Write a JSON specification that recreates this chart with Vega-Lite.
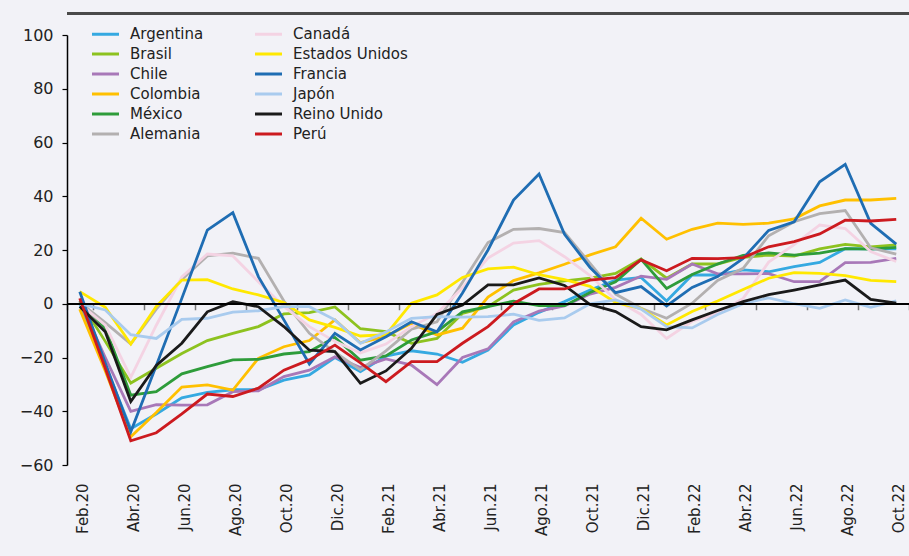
{
"$schema":"https://vega.github.io/schema/vega-lite/v6.json",
"autosize":{"type":"none"},
"padding":{"left":67,"top":35,"right":0,"bottom":91},
"width":842,"height":430,
"background":"#F2F2F7",
"config":{"view":{"stroke":null},"font":"DejaVu Sans"},
"data":{"values":[
{"m":"Feb.20","p":"Argentina","v":0},{"m":"Mar.20","p":"Argentina","v":-23},{"m":"Abr.20","p":"Argentina","v":-46.5},{"m":"May.20","p":"Argentina","v":-41},{"m":"Jun.20","p":"Argentina","v":-35},{"m":"Jul.20","p":"Argentina","v":-33},{"m":"Ago.20","p":"Argentina","v":-32},{"m":"Sep.20","p":"Argentina","v":-32},{"m":"Oct.20","p":"Argentina","v":-28.4},{"m":"Nov.20","p":"Argentina","v":-26.5},{"m":"Dic.20","p":"Argentina","v":-20},{"m":"Ene.21","p":"Argentina","v":-25.3},{"m":"Feb.21","p":"Argentina","v":-19.5},{"m":"Mar.21","p":"Argentina","v":-17.5},{"m":"Abr.21","p":"Argentina","v":-18.7},{"m":"May.21","p":"Argentina","v":-21.8},{"m":"Jun.21","p":"Argentina","v":-17.2},{"m":"Jul.21","p":"Argentina","v":-7.9},{"m":"Ago.21","p":"Argentina","v":-3.2},{"m":"Sep.21","p":"Argentina","v":0.8},{"m":"Oct.21","p":"Argentina","v":5.1},{"m":"Nov.21","p":"Argentina","v":8.8},{"m":"Dic.21","p":"Argentina","v":9.8},{"m":"Ene.22","p":"Argentina","v":1},{"m":"Feb.22","p":"Argentina","v":10.7},{"m":"Mar.22","p":"Argentina","v":10.7},{"m":"Abr.22","p":"Argentina","v":12.6},{"m":"May.22","p":"Argentina","v":11.9},{"m":"Jun.22","p":"Argentina","v":13.8},{"m":"Jul.22","p":"Argentina","v":15.4},{"m":"Ago.22","p":"Argentina","v":20.5},{"m":"Sep.22","p":"Argentina","v":20.4},{"m":"Oct.22","p":"Argentina","v":20.4},
{"m":"Feb.20","p":"Brasil","v":1},{"m":"Mar.20","p":"Brasil","v":-14},{"m":"Abr.20","p":"Brasil","v":-29.5},{"m":"May.20","p":"Brasil","v":-24},{"m":"Jun.20","p":"Brasil","v":-18.5},{"m":"Jul.20","p":"Brasil","v":-13.7},{"m":"Ago.20","p":"Brasil","v":-11},{"m":"Sep.20","p":"Brasil","v":-8.5},{"m":"Oct.20","p":"Brasil","v":-3.8},{"m":"Nov.20","p":"Brasil","v":-3.3},{"m":"Dic.20","p":"Brasil","v":-1.2},{"m":"Ene.21","p":"Brasil","v":-9.3},{"m":"Feb.21","p":"Brasil","v":-10.4},{"m":"Mar.21","p":"Brasil","v":-14.7},{"m":"Abr.21","p":"Brasil","v":-12.9},{"m":"May.21","p":"Brasil","v":-3.6},{"m":"Jun.21","p":"Brasil","v":-1.1},{"m":"Jul.21","p":"Brasil","v":5.1},{"m":"Ago.21","p":"Brasil","v":7.2},{"m":"Sep.21","p":"Brasil","v":8.5},{"m":"Oct.21","p":"Brasil","v":9.5},{"m":"Nov.21","p":"Brasil","v":11.3},{"m":"Dic.21","p":"Brasil","v":16.7},{"m":"Ene.22","p":"Brasil","v":9.5},{"m":"Feb.22","p":"Brasil","v":14.8},{"m":"Mar.22","p":"Brasil","v":14.8},{"m":"Abr.22","p":"Brasil","v":17.3},{"m":"May.22","p":"Brasil","v":18.1},{"m":"Jun.22","p":"Brasil","v":17.7},{"m":"Jul.22","p":"Brasil","v":20.4},{"m":"Ago.22","p":"Brasil","v":22.1},{"m":"Sep.22","p":"Brasil","v":21.2},{"m":"Oct.22","p":"Brasil","v":21.9},
{"m":"Feb.20","p":"Chile","v":1},{"m":"Mar.20","p":"Chile","v":-20},{"m":"Abr.20","p":"Chile","v":-40},{"m":"May.20","p":"Chile","v":-37.5},{"m":"Jun.20","p":"Chile","v":-37.7},{"m":"Jul.20","p":"Chile","v":-37.6},{"m":"Ago.20","p":"Chile","v":-32.7},{"m":"Sep.20","p":"Chile","v":-32.4},{"m":"Oct.20","p":"Chile","v":-27.1},{"m":"Nov.20","p":"Chile","v":-24.7},{"m":"Dic.20","p":"Chile","v":-19.7},{"m":"Ene.21","p":"Chile","v":-23.7},{"m":"Feb.21","p":"Chile","v":-20.5},{"m":"Mar.21","p":"Chile","v":-22.8},{"m":"Abr.21","p":"Chile","v":-30.1},{"m":"May.21","p":"Chile","v":-20},{"m":"Jun.21","p":"Chile","v":-16.8},{"m":"Jul.21","p":"Chile","v":-6.8},{"m":"Ago.21","p":"Chile","v":-2.7},{"m":"Sep.21","p":"Chile","v":-0.8},{"m":"Oct.21","p":"Chile","v":3.6},{"m":"Nov.21","p":"Chile","v":6.1},{"m":"Dic.21","p":"Chile","v":10.3},{"m":"Ene.22","p":"Chile","v":9.1},{"m":"Feb.22","p":"Chile","v":14.8},{"m":"Mar.22","p":"Chile","v":11.1},{"m":"Abr.22","p":"Chile","v":11.1},{"m":"May.22","p":"Chile","v":11.2},{"m":"Jun.22","p":"Chile","v":8.2},{"m":"Jul.22","p":"Chile","v":8.2},{"m":"Ago.22","p":"Chile","v":15.3},{"m":"Sep.22","p":"Chile","v":15.4},{"m":"Oct.22","p":"Chile","v":16.9},
{"m":"Feb.20","p":"Colombia","v":-2},{"m":"Mar.20","p":"Colombia","v":-25},{"m":"Abr.20","p":"Colombia","v":-49.5},{"m":"May.20","p":"Colombia","v":-40.5},{"m":"Jun.20","p":"Colombia","v":-31},{"m":"Jul.20","p":"Colombia","v":-30.2},{"m":"Ago.20","p":"Colombia","v":-32.1},{"m":"Sep.20","p":"Colombia","v":-20.3},{"m":"Oct.20","p":"Colombia","v":-16},{"m":"Nov.20","p":"Colombia","v":-13.7},{"m":"Dic.20","p":"Colombia","v":-6},{"m":"Ene.21","p":"Colombia","v":-14.5},{"m":"Feb.21","p":"Colombia","v":-12.2},{"m":"Mar.21","p":"Colombia","v":-7.3},{"m":"Abr.21","p":"Colombia","v":-11.6},{"m":"May.21","p":"Colombia","v":-9.1},{"m":"Jun.21","p":"Colombia","v":2.5},{"m":"Jul.21","p":"Colombia","v":8.6},{"m":"Ago.21","p":"Colombia","v":11.5},{"m":"Sep.21","p":"Colombia","v":14.7},{"m":"Oct.21","p":"Colombia","v":18.2},{"m":"Nov.21","p":"Colombia","v":21.2},{"m":"Dic.21","p":"Colombia","v":31.8},{"m":"Ene.22","p":"Colombia","v":24},{"m":"Feb.22","p":"Colombia","v":27.7},{"m":"Mar.22","p":"Colombia","v":30},{"m":"Abr.22","p":"Colombia","v":29.5},{"m":"May.22","p":"Colombia","v":30},{"m":"Jun.22","p":"Colombia","v":31.6},{"m":"Jul.22","p":"Colombia","v":36.4},{"m":"Ago.22","p":"Colombia","v":38.6},{"m":"Sep.22","p":"Colombia","v":38.6},{"m":"Oct.22","p":"Colombia","v":39.2},
{"m":"Feb.20","p":"México","v":1},{"m":"Mar.20","p":"México","v":-9},{"m":"Abr.20","p":"México","v":-34},{"m":"May.20","p":"México","v":-32.7},{"m":"Jun.20","p":"México","v":-26.1},{"m":"Jul.20","p":"México","v":-23.4},{"m":"Ago.20","p":"México","v":-20.9},{"m":"Sep.20","p":"México","v":-20.7},{"m":"Oct.20","p":"México","v":-18.7},{"m":"Nov.20","p":"México","v":-17.8},{"m":"Dic.20","p":"México","v":-12.5},{"m":"Ene.21","p":"México","v":-21},{"m":"Feb.21","p":"México","v":-19.4},{"m":"Mar.21","p":"México","v":-13.5},{"m":"Abr.21","p":"México","v":-10.4},{"m":"May.21","p":"México","v":-3},{"m":"Jun.21","p":"México","v":-1.1},{"m":"Jul.21","p":"México","v":1},{"m":"Ago.21","p":"México","v":-0.7},{"m":"Sep.21","p":"México","v":-0.7},{"m":"Oct.21","p":"México","v":4.2},{"m":"Nov.21","p":"México","v":8.2},{"m":"Dic.21","p":"México","v":16.5},{"m":"Ene.22","p":"México","v":5.7},{"m":"Feb.22","p":"México","v":10.9},{"m":"Mar.22","p":"México","v":14.8},{"m":"Abr.22","p":"México","v":18},{"m":"May.22","p":"México","v":18.9},{"m":"Jun.22","p":"México","v":18.1},{"m":"Jul.22","p":"México","v":18.8},{"m":"Ago.22","p":"México","v":20.5},{"m":"Sep.22","p":"México","v":20.3},{"m":"Oct.22","p":"México","v":21},
{"m":"Feb.20","p":"Alemania","v":0.5},{"m":"Mar.20","p":"Alemania","v":-7},{"m":"Abr.20","p":"Alemania","v":-15},{"m":"May.20","p":"Alemania","v":-2},{"m":"Jun.20","p":"Alemania","v":9},{"m":"Jul.20","p":"Alemania","v":17.8},{"m":"Ago.20","p":"Alemania","v":18.8},{"m":"Sep.20","p":"Alemania","v":16.9},{"m":"Oct.20","p":"Alemania","v":1},{"m":"Nov.20","p":"Alemania","v":-11},{"m":"Dic.20","p":"Alemania","v":-18},{"m":"Ene.21","p":"Alemania","v":-24.6},{"m":"Feb.21","p":"Alemania","v":-17.5},{"m":"Mar.21","p":"Alemania","v":-9.5},{"m":"Abr.21","p":"Alemania","v":-6.7},{"m":"May.21","p":"Alemania","v":8},{"m":"Jun.21","p":"Alemania","v":22.8},{"m":"Jul.21","p":"Alemania","v":27.7},{"m":"Ago.21","p":"Alemania","v":28},{"m":"Sep.21","p":"Alemania","v":26.5},{"m":"Oct.21","p":"Alemania","v":15},{"m":"Nov.21","p":"Alemania","v":3.6},{"m":"Dic.21","p":"Alemania","v":-1.7},{"m":"Ene.22","p":"Alemania","v":-5.4},{"m":"Feb.22","p":"Alemania","v":0.2},{"m":"Mar.22","p":"Alemania","v":8.7},{"m":"Abr.22","p":"Alemania","v":13.2},{"m":"May.22","p":"Alemania","v":25.3},{"m":"Jun.22","p":"Alemania","v":30.5},{"m":"Jul.22","p":"Alemania","v":33.5},{"m":"Ago.22","p":"Alemania","v":34.7},{"m":"Sep.22","p":"Alemania","v":20.8},{"m":"Oct.22","p":"Alemania","v":18.5},
{"m":"Feb.20","p":"Canadá","v":0},{"m":"Mar.20","p":"Canadá","v":-8},{"m":"Abr.20","p":"Canadá","v":-27.4},{"m":"May.20","p":"Canadá","v":-8},{"m":"Jun.20","p":"Canadá","v":10},{"m":"Jul.20","p":"Canadá","v":18.5},{"m":"Ago.20","p":"Canadá","v":17.8},{"m":"Sep.20","p":"Canadá","v":8.2},{"m":"Oct.20","p":"Canadá","v":-1},{"m":"Nov.20","p":"Canadá","v":-8.5},{"m":"Dic.20","p":"Canadá","v":-14},{"m":"Ene.21","p":"Canadá","v":-18.3},{"m":"Feb.21","p":"Canadá","v":-15},{"m":"Mar.21","p":"Canadá","v":-8.5},{"m":"Abr.21","p":"Canadá","v":-3.6},{"m":"May.21","p":"Canadá","v":6},{"m":"Jun.21","p":"Canadá","v":17},{"m":"Jul.21","p":"Canadá","v":22.6},{"m":"Ago.21","p":"Canadá","v":23.5},{"m":"Sep.21","p":"Canadá","v":17.5},{"m":"Oct.21","p":"Canadá","v":10.5},{"m":"Nov.21","p":"Canadá","v":1.5},{"m":"Dic.21","p":"Canadá","v":-4},{"m":"Ene.22","p":"Canadá","v":-12.9},{"m":"Feb.22","p":"Canadá","v":-6.5},{"m":"Mar.22","p":"Canadá","v":-3.6},{"m":"Abr.22","p":"Canadá","v":2},{"m":"May.22","p":"Canadá","v":15.5},{"m":"Jun.22","p":"Canadá","v":22},{"m":"Jul.22","p":"Canadá","v":29.3},{"m":"Ago.22","p":"Canadá","v":28},{"m":"Sep.22","p":"Canadá","v":19.4},{"m":"Oct.22","p":"Canadá","v":15.7},
{"m":"Feb.20","p":"Estados Unidos","v":4.5},{"m":"Mar.20","p":"Estados Unidos","v":-1.3},{"m":"Abr.20","p":"Estados Unidos","v":-15},{"m":"May.20","p":"Estados Unidos","v":-1},{"m":"Jun.20","p":"Estados Unidos","v":8.8},{"m":"Jul.20","p":"Estados Unidos","v":9},{"m":"Ago.20","p":"Estados Unidos","v":5.5},{"m":"Sep.20","p":"Estados Unidos","v":3.3},{"m":"Oct.20","p":"Estados Unidos","v":0.5},{"m":"Nov.20","p":"Estados Unidos","v":-6},{"m":"Dic.20","p":"Estados Unidos","v":-8.8},{"m":"Ene.21","p":"Estados Unidos","v":-12},{"m":"Feb.21","p":"Estados Unidos","v":-11.5},{"m":"Mar.21","p":"Estados Unidos","v":0.2},{"m":"Abr.21","p":"Estados Unidos","v":3.3},{"m":"May.21","p":"Estados Unidos","v":9.8},{"m":"Jun.21","p":"Estados Unidos","v":13},{"m":"Jul.21","p":"Estados Unidos","v":13.6},{"m":"Ago.21","p":"Estados Unidos","v":10.8},{"m":"Sep.21","p":"Estados Unidos","v":9},{"m":"Oct.21","p":"Estados Unidos","v":6.5},{"m":"Nov.21","p":"Estados Unidos","v":0.5},{"m":"Dic.21","p":"Estados Unidos","v":-1.8},{"m":"Ene.22","p":"Estados Unidos","v":-7.9},{"m":"Feb.22","p":"Estados Unidos","v":-2.9},{"m":"Mar.22","p":"Estados Unidos","v":1},{"m":"Abr.22","p":"Estados Unidos","v":5.3},{"m":"May.22","p":"Estados Unidos","v":9.5},{"m":"Jun.22","p":"Estados Unidos","v":11.6},{"m":"Jul.22","p":"Estados Unidos","v":11.3},{"m":"Ago.22","p":"Estados Unidos","v":10.5},{"m":"Sep.22","p":"Estados Unidos","v":8.7},{"m":"Oct.22","p":"Estados Unidos","v":8.2},
{"m":"Feb.20","p":"Francia","v":4.5},{"m":"Mar.20","p":"Francia","v":-22},{"m":"Abr.20","p":"Francia","v":-47.6},{"m":"May.20","p":"Francia","v":-23},{"m":"Jun.20","p":"Francia","v":2},{"m":"Jul.20","p":"Francia","v":27.4},{"m":"Ago.20","p":"Francia","v":33.9},{"m":"Sep.20","p":"Francia","v":10.1},{"m":"Oct.20","p":"Francia","v":-6},{"m":"Nov.20","p":"Francia","v":-22.4},{"m":"Dic.20","p":"Francia","v":-11},{"m":"Ene.21","p":"Francia","v":-17.2},{"m":"Feb.21","p":"Francia","v":-12.3},{"m":"Mar.21","p":"Francia","v":-6.7},{"m":"Abr.21","p":"Francia","v":-10.4},{"m":"May.21","p":"Francia","v":4},{"m":"Jun.21","p":"Francia","v":20},{"m":"Jul.21","p":"Francia","v":38.6},{"m":"Ago.21","p":"Francia","v":48.3},{"m":"Sep.21","p":"Francia","v":25.8},{"m":"Oct.21","p":"Francia","v":13.5},{"m":"Nov.21","p":"Francia","v":4.1},{"m":"Dic.21","p":"Francia","v":6.4},{"m":"Ene.22","p":"Francia","v":-0.8},{"m":"Feb.22","p":"Francia","v":6.1},{"m":"Mar.22","p":"Francia","v":10.1},{"m":"Abr.22","p":"Francia","v":16.9},{"m":"May.22","p":"Francia","v":27.3},{"m":"Jun.22","p":"Francia","v":30.5},{"m":"Jul.22","p":"Francia","v":45.4},{"m":"Ago.22","p":"Francia","v":51.9},{"m":"Sep.22","p":"Francia","v":29.9},{"m":"Oct.22","p":"Francia","v":22.2},
{"m":"Feb.20","p":"Japón","v":0},{"m":"Mar.20","p":"Japón","v":-2.3},{"m":"Abr.20","p":"Japón","v":-11.5},{"m":"May.20","p":"Japón","v":-12.9},{"m":"Jun.20","p":"Japón","v":-5.8},{"m":"Jul.20","p":"Japón","v":-5.4},{"m":"Ago.20","p":"Japón","v":-3.1},{"m":"Sep.20","p":"Japón","v":-2.6},{"m":"Oct.20","p":"Japón","v":-1.1},{"m":"Nov.20","p":"Japón","v":-1.1},{"m":"Dic.20","p":"Japón","v":-6},{"m":"Ene.21","p":"Japón","v":-14.7},{"m":"Feb.21","p":"Japón","v":-10.5},{"m":"Mar.21","p":"Japón","v":-5.4},{"m":"Abr.21","p":"Japón","v":-4.8},{"m":"May.21","p":"Japón","v":-5},{"m":"Jun.21","p":"Japón","v":-4.8},{"m":"Jul.21","p":"Japón","v":-3.9},{"m":"Ago.21","p":"Japón","v":-6.2},{"m":"Sep.21","p":"Japón","v":-5.3},{"m":"Oct.21","p":"Japón","v":0},{"m":"Nov.21","p":"Japón","v":1.4},{"m":"Dic.21","p":"Japón","v":-2},{"m":"Ene.22","p":"Japón","v":-8.5},{"m":"Feb.22","p":"Japón","v":-9},{"m":"Mar.22","p":"Japón","v":-4},{"m":"Abr.22","p":"Japón","v":0},{"m":"May.22","p":"Japón","v":2.2},{"m":"Jun.22","p":"Japón","v":0},{"m":"Jul.22","p":"Japón","v":-1.7},{"m":"Ago.22","p":"Japón","v":1.4},{"m":"Sep.22","p":"Japón","v":-1.3},{"m":"Oct.22","p":"Japón","v":1.1},
{"m":"Feb.20","p":"Reino Unido","v":-1},{"m":"Mar.20","p":"Reino Unido","v":-10.4},{"m":"Abr.20","p":"Reino Unido","v":-36.4},{"m":"May.20","p":"Reino Unido","v":-23},{"m":"Jun.20","p":"Reino Unido","v":-14.7},{"m":"Jul.20","p":"Reino Unido","v":-3},{"m":"Ago.20","p":"Reino Unido","v":0.8},{"m":"Sep.20","p":"Reino Unido","v":-1.1},{"m":"Oct.20","p":"Reino Unido","v":-8.5},{"m":"Nov.20","p":"Reino Unido","v":-17.3},{"m":"Dic.20","p":"Reino Unido","v":-17.8},{"m":"Ene.21","p":"Reino Unido","v":-29.6},{"m":"Feb.21","p":"Reino Unido","v":-25},{"m":"Mar.21","p":"Reino Unido","v":-16.6},{"m":"Abr.21","p":"Reino Unido","v":-4},{"m":"May.21","p":"Reino Unido","v":-0.5},{"m":"Jun.21","p":"Reino Unido","v":7},{"m":"Jul.21","p":"Reino Unido","v":7},{"m":"Ago.21","p":"Reino Unido","v":9.6},{"m":"Sep.21","p":"Reino Unido","v":6.8},{"m":"Oct.21","p":"Reino Unido","v":-0.3},{"m":"Nov.21","p":"Reino Unido","v":-2.9},{"m":"Dic.21","p":"Reino Unido","v":-8.5},{"m":"Ene.22","p":"Reino Unido","v":-9.7},{"m":"Feb.22","p":"Reino Unido","v":-6},{"m":"Mar.22","p":"Reino Unido","v":-2.5},{"m":"Abr.22","p":"Reino Unido","v":0.8},{"m":"May.22","p":"Reino Unido","v":3.4},{"m":"Jun.22","p":"Reino Unido","v":5.1},{"m":"Jul.22","p":"Reino Unido","v":7},{"m":"Ago.22","p":"Reino Unido","v":8.8},{"m":"Sep.22","p":"Reino Unido","v":1.6},{"m":"Oct.22","p":"Reino Unido","v":0.2},
{"m":"Feb.20","p":"Perú","v":2},{"m":"Mar.20","p":"Perú","v":-24},{"m":"Abr.20","p":"Perú","v":-51},{"m":"May.20","p":"Perú","v":-48},{"m":"Jun.20","p":"Perú","v":-41},{"m":"Jul.20","p":"Perú","v":-33.6},{"m":"Ago.20","p":"Perú","v":-34.5},{"m":"Sep.20","p":"Perú","v":-31.4},{"m":"Oct.20","p":"Perú","v":-24.7},{"m":"Nov.20","p":"Perú","v":-20.9},{"m":"Dic.20","p":"Perú","v":-15.4},{"m":"Ene.21","p":"Perú","v":-22},{"m":"Feb.21","p":"Perú","v":-29},{"m":"Mar.21","p":"Perú","v":-21.5},{"m":"Abr.21","p":"Perú","v":-21.5},{"m":"May.21","p":"Perú","v":-14.7},{"m":"Jun.21","p":"Perú","v":-8.5},{"m":"Jul.21","p":"Perú","v":0},{"m":"Ago.21","p":"Perú","v":5.5},{"m":"Sep.21","p":"Perú","v":5.5},{"m":"Oct.21","p":"Perú","v":8.8},{"m":"Nov.21","p":"Perú","v":9.7},{"m":"Dic.21","p":"Perú","v":16.3},{"m":"Ene.22","p":"Perú","v":12.3},{"m":"Feb.22","p":"Perú","v":16.9},{"m":"Mar.22","p":"Perú","v":16.8},{"m":"Abr.22","p":"Perú","v":17.2},{"m":"May.22","p":"Perú","v":21.2},{"m":"Jun.22","p":"Perú","v":23.1},{"m":"Jul.22","p":"Perú","v":26},{"m":"Ago.22","p":"Perú","v":31.1},{"m":"Sep.22","p":"Perú","v":30.8},{"m":"Oct.22","p":"Perú","v":31.4}
]},
"resolve":{"axis":{"x":"independent"}},
"layer":[
{"mark":{"type":"rule","color":"#4a4a4a","strokeWidth":2},
 "encoding":{"y":{"datum":108,"scale":{"domain":[-60,100],"nice":false,"zero":false}}}},
{"mark":{"type":"line","strokeWidth":2.8,"strokeJoin":"miter"},
 "encoding":{
  "x":{"field":"m","type":"ordinal","sort":null,
   "scale":{"type":"band","paddingInner":0,"paddingOuter":0},
   "axis":{"title":null,"orient":"bottom","domain":false,"ticks":false,"labelAngle":-90,"labelFontSize":15,"labelColor":"#222222","labelPadding":18,"labelOffset":3,"labelFont":"DejaVu Sans",
    "values":["Feb.20","Abr.20","Jun.20","Ago.20","Oct.20","Dic.20","Feb.21","Abr.21","Jun.21","Ago.21","Oct.21","Dic.21","Feb.22","Abr.22","Jun.22","Ago.22","Oct.22"]}},
  "y":{"field":"v","type":"quantitative","scale":{"domain":[-60,100],"nice":false,"zero":false},
   "axis":{"title":null,"values":[-60,-40,-20,0,20,40,60,80,100],"grid":false,"domainColor":"#000000","domainWidth":1.5,"tickColor":"#000000","tickSize":5,"tickWidth":1.2,"labelFontSize":16,"labelColor":"#222222","labelPadding":9,"labelFont":"DejaVu Sans"}},
  "color":{"field":"p","type":"nominal",
   "scale":{"domain":["Argentina","Brasil","Chile","Colombia","México","Alemania","Canadá","Estados Unidos","Francia","Japón","Reino Unido","Perú"],
    "range":["#35A9E1","#8DC21F","#A878B8","#FFC000","#2E9C3A","#B3B0B0","#F4D3E3","#FFE800","#1F6DB3","#A9CBEE","#1A1A1A","#CC1A1F"]},
   "legend":{"title":null,"orient":"none","legendX":31,"legendY":-8.5,"columns":2,"columnPadding":45,"rowPadding":4,"gridAlign":"each","padding":0,
    "symbolType":"M-2.7,0H2.7","symbolSize":100,"symbolStrokeWidth":3,"labelFontSize":15,"labelFont":"DejaVu Sans","labelColor":"#222222","labelOffset":17}}}},
{"mark":{"type":"rule","color":"#000000","strokeWidth":1.5},
 "encoding":{"y":{"datum":0,"scale":{"domain":[-60,100],"nice":false,"zero":false}}}},
{"mark":{"type":"point","opacity":0},
 "encoding":{
  "x":{"field":"m","type":"ordinal","sort":null,
   "scale":{"type":"band","paddingInner":0,"paddingOuter":0},
   "axis":{"title":null,"orient":"bottom","offset":-161.25,"labels":false,"domain":false,"ticks":true,"tickBand":"extent","tickColor":"#777777","tickSize":6,"tickWidth":1.5,
    "values":["Feb.20","Abr.20","Jun.20","Ago.20","Oct.20","Dic.20","Feb.21","Abr.21","Jun.21","Ago.21","Oct.21","Dic.21","Feb.22","Abr.22","Jun.22","Ago.22","Oct.22"]}},
  "y":{"datum":0,"scale":{"domain":[-60,100],"nice":false,"zero":false}}}}
]
}
